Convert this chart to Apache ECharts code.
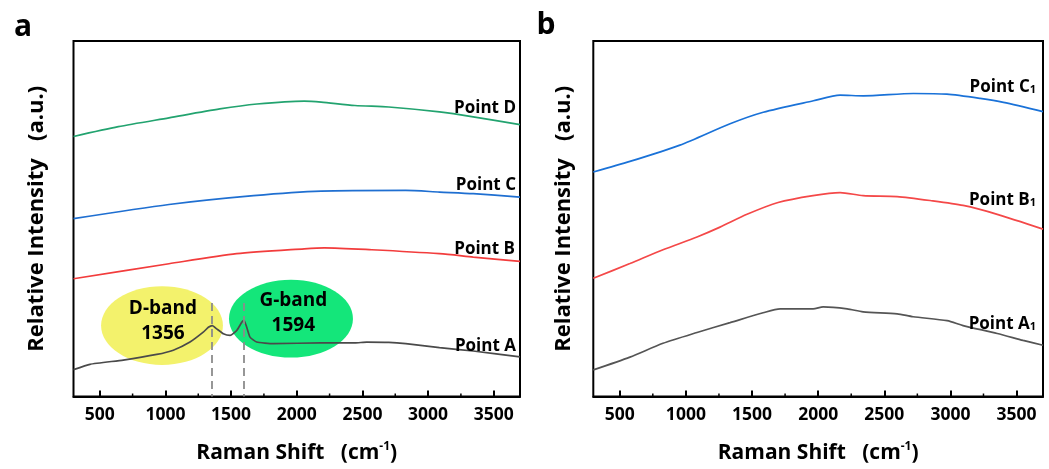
<!DOCTYPE html>
<html>
<head>
<meta charset="utf-8">
<script src="https://cdn.jsdelivr.net/npm/echarts@6/dist/echarts.min.js"></script>
<style>
html,body{margin:0;padding:0;background:#fff;}
#chart{width:1049px;height:469px;}
</style>
</head>
<body>
<div id="chart"></div>
<script>
// ---------- DATA ----------
const xTickValues = [500, 1000, 1500, 2000, 2500, 3000, 3500];
const xMinorTickValues = [750, 1250, 1750, 2250, 2750, 3250];

// Panel a
const pointD_x = [300, 641, 1027, 1414, 1697, 2057, 2186, 2443, 2701, 3087, 3344, 3700];
const pointD_y = [264, 274, 283, 292, 297, 300, 299, 295.5, 294, 289, 284, 276];

const pointC_x = [300, 1027, 1671, 2186, 2830, 3087, 3344, 3700];
const pointC_y = [180.6, 195, 204, 208.6, 209.3, 207.6, 206, 202.5];

const pointB_x = [300, 1027, 1542, 2057, 2211, 2571, 3087, 3344, 3700];
const pointB_y = [119.6, 134.8, 145, 150, 151, 149, 145, 141.6, 137.2];

const pointA_x = [300, 426, 679, 934, 1060, 1187, 1288, 1327, 1357, 1390, 1441, 1492, 1543, 1581, 1598, 1619, 1644, 1695, 1821, 2186, 2443, 2533, 2701, 2830, 3087, 3344, 3700];
const pointA_y = [27.3, 32.7, 37, 42.7, 47, 55.3, 65.3, 70.3, 72, 68.7, 63.7, 62, 67, 75.3, 77.7, 70.3, 60.3, 55.3, 53.7, 54.4, 54.4, 55.3, 55, 53.7, 49.6, 46.2, 40.2];

const bandNames = ['D-band', 'G-band'];
const bandPeaks = [1356, 1594];

// Panel b
const pointC1_x = [300, 577, 955, 1334, 1585, 1964, 2166, 2342, 2720, 2973, 3225, 3401, 3700];
const pointC1_y = [228, 238.7, 255.3, 277, 288.7, 300.3, 306, 305.3, 307.7, 307, 302.7, 298.7, 289.3];

const pointB1_x = [300, 577, 827, 1084, 1258, 1462, 1697, 1961, 2166, 2340, 2597, 2847, 3096, 3354, 3700];
const pointB1_y = [120, 135, 149, 162, 172, 185, 197, 204, 207, 204, 203, 199, 194, 185, 170];

const pointA1_x = [300, 577, 827, 1084, 1334, 1584, 1713, 1962, 2038, 2219, 2340, 2597, 2718, 2975, 3096, 3354, 3550, 3700];
const pointA1_y = [27, 40, 54, 65, 75, 85, 89, 89, 91, 89, 86, 84, 81, 77, 72, 64, 57, 52];

// ---------- BUILD ----------
const FONT = '"Open Sans", "Noto Sans", sans-serif';
const zip = (xs, ys) => xs.map((x, i) => [x, ys[i]]);

const chart = echarts.init(document.getElementById('chart'), null, {renderer: 'canvas'});

const grids = [
  {left: 73.5, top: 41, width: 446.5, height: 361},
  {left: 593.3, top: 41, width: 449.7, height: 361}
];

function mainX(gi) {
  return {
    type: 'value', gridIndex: gi, min: 300, max: 3700,
    axisLine: {show: true, lineStyle: {color: '#000', width: 2}},
    axisTick: {show: true, inside: true, length: 6, customValues: xTickValues,
      lineStyle: {color: '#000', width: 2}},
    axisLabel: {show: true, customValues: xTickValues, margin: 10,
      formatter: v => String(v),
      color: '#000', fontFamily: FONT, fontWeight: 'bold', fontSize: 17.5},
    splitLine: {show: false},
    name: '{t|Raman Shift   (cm}{s|-1}{t|)}',
    nameLocation: 'middle', nameGap: 44,
    nameTextStyle: {
      rich: {
        t: {fontFamily: FONT, fontWeight: 'bold', fontSize: 21, color: '#000', lineHeight: 26},
        s: {fontFamily: FONT, fontWeight: 'bold', fontSize: 12, color: '#000', verticalAlign: 'top', lineHeight: 26, padding: [0, 0, 10, 0]}
      }
    }
  };
}
function yAx(gi, gap) {
  return {
    type: 'value', gridIndex: gi, min: 0, max: 361,
    axisLine: {show: false}, axisTick: {show: false}, axisLabel: {show: false},
    splitLine: {show: false},
    name: 'Relative Intensity   (a.u.)', nameLocation: 'middle', nameGap: gap,
    nameTextStyle: {fontFamily: FONT, fontWeight: 'bold', fontSize: 22, color: '#000'}
  };
}

function lineSeries(name, xs, ys, color, xi, yi, extra) {
  return Object.assign({
    name, type: 'line', xAxisIndex: xi, yAxisIndex: yi,
    data: zip(xs, ys), showSymbol: false, symbol: 'none',
    smooth: 0.25, lineStyle: {color, width: 1.7}, z: 3, animation: false
  }, extra || {});
}

// minor inward tick marks drawn through the x scale
function tickSeries(gi, values, len, width) {
  return {
    type: 'custom', xAxisIndex: gi, yAxisIndex: gi, z: 5, animation: false,
    clip: false,
    data: values.map(v => [v, 0]),
    renderItem: function (params, api) {
      const p = api.coord([api.value(0), 0]);
      return {type: 'line', shape: {x1: p[0], y1: p[1], x2: p[0], y2: p[1] - len},
        style: {stroke: '#000', lineWidth: width}};
    }
  };
}

// annotation geometry (ellipses around the bands)
const ellipseStyle = [
  {cx: 974, cy: 72, rx: 464, ry: 40, tx: 981, ty: 76.5, fill: '#f3f26c'},
  {cx: 1956, cy: 79, rx: 472, ry: 39.5, tx: 1974, ty: 84.5, fill: '#14e67a'}
];

const ellipseSeries = {
  type: 'custom', xAxisIndex: 0, yAxisIndex: 0, z: 1, animation: false,
  data: bandPeaks.map((p, i) => [p, i]),
  renderItem: function (params, api) {
    const i = params.dataIndex;
    const e = ellipseStyle[i];
    const c = api.coord([e.cx, e.cy]);
    const s = api.size([e.rx, e.ry]);
    const t = api.coord([e.tx, e.ty]);
    return {
      type: 'group',
      children: [
        {type: 'ellipse', shape: {cx: c[0], cy: c[1], rx: s[0], ry: s[1]}, style: {fill: e.fill}},
        {type: 'text', x: t[0], y: t[1], style: {
          text: bandNames[i] + '\n' + bandPeaks[i],
          fill: '#000', font: 'bold 19px ' + FONT, lineHeight: 25,
          align: 'center', verticalAlign: 'middle'
        }}
      ]
    };
  }
};

const dashLines = bandPeaks.map(p => [{coord: [p, 95]}, {coord: [p, 0]}]);

const series = [
  ellipseSeries,
  lineSeries('Point D', pointD_x, pointD_y, '#22a36f', 0, 0),
  lineSeries('Point C', pointC_x, pointC_y, '#1f6fd1', 0, 0),
  lineSeries('Point B', pointB_x, pointB_y, '#f23c3c', 0, 0),
  lineSeries('Point A', pointA_x, pointA_y, '#4a4a4a', 0, 0, {
    smooth: 0.15,
    markLine: {
      silent: true, symbol: 'none', animation: false,
      label: {show: false},
      lineStyle: {color: '#8c8c8c', type: [8, 5], width: 1.8},
      data: dashLines
    }
  }),
  lineSeries('Point C1', pointC1_x, pointC1_y, '#1a72d8', 1, 1),
  lineSeries('Point B1', pointB1_x, pointB1_y, '#f44848', 1, 1),
  lineSeries('Point A1', pointA1_x, pointA1_y, '#555555', 1, 1),
  tickSeries(0, xMinorTickValues, 3, 1.5),
  tickSeries(1, xMinorTickValues, 3, 1.5)
];

function ptLabel(txt, sub, x, y) {
  return {
    type: 'text', x: x, y: y, z: 10,
    style: {
      text: sub ? '{p|' + txt + '}{s|' + sub + '}' : '{p|' + txt + '}',
      align: 'right', verticalAlign: 'middle',
      rich: {
        p: {font: 'bold 17px ' + FONT, fill: '#000'},
        s: {font: 'bold 11px ' + FONT, fill: '#000', verticalAlign: 'bottom', padding: [4, 0, 0, 0]}
      }
    }
  };
}

const option = {
  backgroundColor: '#fff',
  animation: false,
  grid: grids.map(g => Object.assign({show: true, borderColor: '#000', borderWidth: 2, backgroundColor: 'transparent'}, g)),
  xAxis: [mainX(0), mainX(1)],
  yAxis: [yAx(0, 26), yAx(1, 19)],
  series: series,
  graphic: [
    {type: 'text', x: 23, y: 27, style: {text: 'a', font: 'bold 30px ' + FONT, fill: '#000', align: 'center', verticalAlign: 'middle'}},
    {type: 'text', x: 546, y: 25, style: {text: 'b', font: 'bold 30px ' + FONT, fill: '#000', align: 'center', verticalAlign: 'middle'}},
    ptLabel('Point D', '', 516, 108),
    ptLabel('Point C', '', 516, 185),
    ptLabel('Point B', '', 515, 249),
    ptLabel('Point A', '', 516, 346),
    ptLabel('Point C', '1', 1036, 87),
    ptLabel('Point B', '1', 1036, 200),
    ptLabel('Point A', '1', 1036, 324)
  ]
};

chart.setOption(option);
</script>
</body>
</html>
